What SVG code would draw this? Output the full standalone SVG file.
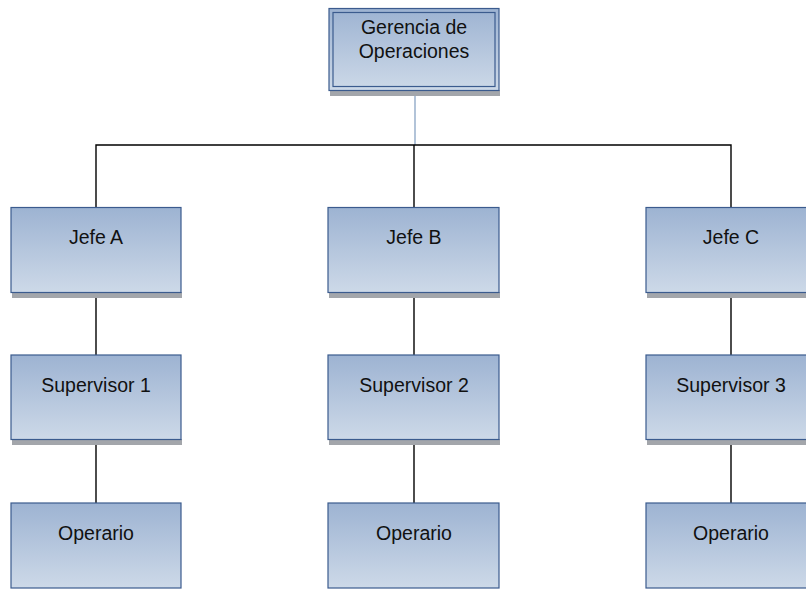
<svg xmlns="http://www.w3.org/2000/svg" width="806" height="589" viewBox="0 0 806 589">
  <style>
    .box { fill: url(#boxFill); stroke: #3b5b8e; stroke-width: 1.2; }
    .shadow { fill: #a3a6ab; }
    .label { font-family: "Liberation Sans", Arial, sans-serif; font-size: 19.5px; fill: #111111; text-anchor: middle; }
    .link { fill: none; stroke: #000000; stroke-width: 1.4; }
    .link-top { fill: none; stroke: #7f9cbf; stroke-width: 1.2; }
  </style>
  <defs>
    <linearGradient id="boxFill" x1="0" y1="0" x2="0" y2="1">
      <stop offset="0" stop-color="#9db3d2"/>
      <stop offset="1" stop-color="#cdd9e8"/>
    </linearGradient>
  </defs>
  <rect width="806" height="589" fill="#ffffff"/>

  <!-- connectors -->
  <g id="connectors">
    <line class="link-top" x1="415" y1="96" x2="415" y2="145"/>
    <polyline class="link" points="96,207 96,145 731,145 731,207"/>
    <line class="link" x1="414" y1="145" x2="414" y2="207"/>
    <line class="link" x1="96" y1="297" x2="96" y2="355"/>
    <line class="link" x1="414" y1="297" x2="414" y2="355"/>
    <line class="link" x1="731" y1="297" x2="731" y2="355"/>
    <line class="link" x1="96" y1="444" x2="96" y2="503"/>
    <line class="link" x1="414" y1="444" x2="414" y2="503"/>
    <line class="link" x1="731" y1="444" x2="731" y2="503"/>
  </g>

  <!-- top node -->
  <g id="gerencia">
    <rect class="shadow" x="330" y="90" width="170" height="6"/>
    <rect class="box" x="329" y="8.5" width="170" height="82"/>
    <rect x="333" y="12.5" width="162" height="74" fill="none" stroke="#3b5b8e" stroke-width="1.2"/>
    <text class="label" x="414" y="34">Gerencia de</text>
    <text class="label" x="414" y="58">Operaciones</text>
  </g>

  <!-- level 1 -->
  <g id="jefe-a">
    <rect class="shadow" x="12" y="292" width="170" height="6"/>
    <rect class="box" x="11" y="207.5" width="170" height="85"/>
    <text class="label" x="96" y="244">Jefe A</text>
  </g>
  <g id="jefe-b">
    <rect class="shadow" x="329" y="292" width="171" height="6"/>
    <rect class="box" x="328" y="207.5" width="171" height="85"/>
    <text class="label" x="414" y="244">Jefe B</text>
  </g>
  <g id="jefe-c">
    <rect class="shadow" x="647" y="292" width="170" height="6"/>
    <rect class="box" x="646" y="207.5" width="170" height="85"/>
    <text class="label" x="731" y="244">Jefe C</text>
  </g>

  <!-- level 2 -->
  <g id="supervisor-1">
    <rect class="shadow" x="12" y="439" width="170" height="6"/>
    <rect class="box" x="11" y="355" width="170" height="84.5"/>
    <text class="label" x="96" y="392">Supervisor 1</text>
  </g>
  <g id="supervisor-2">
    <rect class="shadow" x="329" y="439" width="171" height="6"/>
    <rect class="box" x="328" y="355" width="171" height="84.5"/>
    <text class="label" x="414" y="392">Supervisor 2</text>
  </g>
  <g id="supervisor-3">
    <rect class="shadow" x="647" y="439" width="170" height="6"/>
    <rect class="box" x="646" y="355" width="170" height="84.5"/>
    <text class="label" x="731" y="392">Supervisor 3</text>
  </g>

  <!-- level 3 -->
  <g id="operario-1">
    <rect class="box" x="11" y="503" width="170" height="85"/>
    <text class="label" x="96" y="540">Operario</text>
  </g>
  <g id="operario-2">
    <rect class="box" x="328" y="503" width="171" height="85"/>
    <text class="label" x="414" y="540">Operario</text>
  </g>
  <g id="operario-3">
    <rect class="box" x="646" y="503" width="170" height="85"/>
    <text class="label" x="731" y="540">Operario</text>
  </g>
</svg>
